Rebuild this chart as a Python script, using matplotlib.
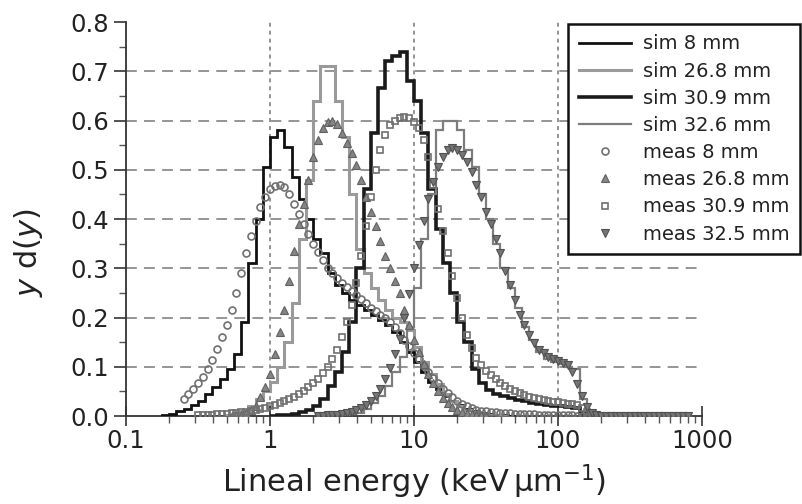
import numpy as np
import matplotlib
matplotlib.use("Agg")
import matplotlib.pyplot as plt
from matplotlib.lines import Line2D
from matplotlib.ticker import LogLocator, MultipleLocator, NullFormatter

plt.rcParams['font.family'] = ['DejaVu Sans']
plt.rcParams['mathtext.fontset'] = 'dejavusans'

# ---------------- data ----------------
# simulated spectra: histograms with 20 log bins per decade; first bin index k -> [10^(k/20), 10^((k+1)/20)]
SIM_PER_DEC = 20
sim8_k0 = -15
sim8 = [0.003, 0.005, 0.01, 0.015, 0.022, 0.03, 0.045, 0.058, 0.075, 0.095, 0.125, 0.19, 0.31, 0.40,
        0.505, 0.567, 0.58, 0.547, 0.486, 0.44, 0.40, 0.36, 0.33, 0.29, 0.266, 0.25, 0.235, 0.225,
        0.215, 0.205, 0.195, 0.185, 0.17, 0.15, 0.13, 0.11, 0.09, 0.07, 0.055, 0.04, 0.03, 0.022,
        0.015, 0.01, 0.007, 0.005, 0.003, 0.002, 0.001]
sim268_k0 = -6
sim268 = [0.003, 0.006, 0.01, 0.02, 0.035, 0.05, 0.07, 0.10, 0.15, 0.23, 0.36, 0.48, 0.64, 0.71,
          0.71, 0.64, 0.567, 0.45, 0.34, 0.29, 0.26, 0.235, 0.215, 0.20, 0.19, 0.175, 0.14, 0.11,
          0.085, 0.065, 0.045, 0.03, 0.02, 0.012, 0.008, 0.005, 0.003, 0.002, 0.001]
sim309_k0 = 0
sim309 = [0.001, 0.002, 0.003, 0.005, 0.008, 0.013, 0.02, 0.035, 0.06, 0.09, 0.13, 0.19, 0.30, 0.46,
          0.575, 0.667, 0.72, 0.73, 0.74, 0.68, 0.64, 0.575, 0.46, 0.38, 0.31, 0.25, 0.19, 0.15,
          0.095, 0.068, 0.052, 0.045, 0.04, 0.036, 0.033, 0.03, 0.027, 0.025, 0.023, 0.021, 0.02,
          0.018, 0.016, 0.006, 0.002, 0.001]
sim326_k0 = 10
sim326 = [0.002, 0.004, 0.006, 0.015, 0.026, 0.04, 0.06, 0.09, 0.12, 0.18, 0.26, 0.36, 0.45, 0.58,
          0.60, 0.60, 0.58, 0.54, 0.506, 0.45, 0.40, 0.35, 0.30, 0.26, 0.22, 0.18, 0.155, 0.13,
          0.115, 0.11, 0.105, 0.10, 0.095, 0.035, 0.01, 0.002, 0.001]

# measured spectra: points on a log grid with 30 points per decade; first point index k -> 10^(k/30)
MEAS_PER_DEC = 30
meas8_k0 = -18
meas8 = [0.035, 0.045, 0.055, 0.067, 0.08, 0.096, 0.114, 0.136, 0.16, 0.185, 0.215, 0.25, 0.29, 0.33,
         0.365, 0.395, 0.425, 0.445, 0.46, 0.468, 0.47, 0.465, 0.45, 0.43, 0.41, 0.39, 0.37, 0.35,
         0.333, 0.316, 0.30, 0.29, 0.28, 0.27, 0.262, 0.253, 0.245, 0.237, 0.229, 0.22, 0.213, 0.206,
         0.198, 0.19, 0.18, 0.168, 0.155, 0.142, 0.128, 0.115, 0.102, 0.09, 0.078, 0.066, 0.055,
         0.046, 0.038, 0.03, 0.025, 0.02, 0.016, 0.013, 0.011, 0.01, 0.009, 0.008, 0.007, 0.006,
         0.0055, 0.005, 0.0045, 0.004, 0.004, 0.0035, 0.003, 0.003, 0.0025, 0.0025, 0.002, 0.002,
         0.0015, 0.0015, 0.001, 0.001, 0.001]
meas268_k0 = -8
meas268 = [0.001, 0.002, 0.003, 0.006, 0.012, 0.02, 0.038, 0.058, 0.085, 0.125, 0.17, 0.215, 0.275,
           0.335, 0.39, 0.43, 0.48, 0.525, 0.56, 0.585, 0.597, 0.60, 0.592, 0.575, 0.555, 0.535, 0.51,
           0.48, 0.445, 0.415, 0.385, 0.355, 0.325, 0.30, 0.275, 0.25, 0.215, 0.185, 0.155, 0.13,
           0.105, 0.085, 0.066, 0.05, 0.037, 0.027, 0.019, 0.013, 0.009, 0.006, 0.004, 0.003, 0.002,
           0.001]
meas309_k0 = -15
meas309 = [0.002, 0.002, 0.003, 0.003, 0.004, 0.004, 0.005, 0.006, 0.007, 0.008, 0.009, 0.011, 0.013,
           0.015, 0.017, 0.02, 0.023, 0.026, 0.03, 0.034, 0.039, 0.044, 0.05, 0.058, 0.066, 0.076,
           0.088, 0.10, 0.115, 0.135, 0.16, 0.19, 0.225, 0.27, 0.325, 0.385, 0.445, 0.50, 0.54, 0.57,
           0.59, 0.60, 0.605, 0.607, 0.605, 0.598, 0.585, 0.56, 0.525, 0.47, 0.42, 0.375, 0.33, 0.285,
           0.24, 0.20, 0.165, 0.138, 0.118, 0.103, 0.092, 0.083, 0.076, 0.068, 0.061, 0.055, 0.05,
           0.046, 0.042, 0.039, 0.036, 0.034, 0.032, 0.03, 0.029, 0.028, 0.027, 0.025, 0.024, 0.022,
           0.016, 0.008, 0.003, 0.001, 0.0, 0.0, 0.0, 0.0, 0.0, 0.0, 0.0, 0.0, 0.0, 0.0, 0.0, 0.0,
           0.0, 0.0, 0.0, 0.0, 0.0, 0.0, 0.0]
meas325_k0 = 10
meas325 = [0.001, 0.001, 0.002, 0.002, 0.003, 0.004, 0.006, 0.008, 0.012, 0.016, 0.022, 0.03, 0.041,
           0.055, 0.075, 0.098, 0.125, 0.157, 0.20, 0.248, 0.30, 0.348, 0.395, 0.44, 0.475, 0.505,
           0.525, 0.54, 0.545, 0.54, 0.53, 0.515, 0.495, 0.47, 0.445, 0.415, 0.39, 0.36, 0.33, 0.295,
           0.265, 0.235, 0.205, 0.185, 0.165, 0.148, 0.135, 0.127, 0.12, 0.116, 0.112, 0.108, 0.104,
           0.09, 0.065, 0.04, 0.018, 0.006, 0.002, 0.001, 0.0, 0.0, 0.0, 0.0, 0.0, 0.0, 0.0, 0.0,
           0.0, 0.0, 0.0, 0.0, 0.0, 0.0, 0.0, 0.0, 0.0, 0.0]

sim_labels = ['sim 8 mm', 'sim 26.8 mm', 'sim 30.9 mm', 'sim 32.6 mm']
meas_labels = ['meas 8 mm', 'meas 26.8 mm', 'meas 30.9 mm', 'meas 32.5 mm']
y_ticks = [0.0, 0.1, 0.2, 0.3, 0.4, 0.5, 0.6, 0.7, 0.8]
x_ticks = [0.1, 1, 10, 100, 1000]
x_ticklabels = ['0.1', '1', '10', '100', '1000']

# ---------------- figure ----------------
fig = plt.figure(figsize=(8.03, 5.04), dpi=100)
ax = fig.add_axes([0.1569, 0.1746, 0.7173, 0.7817])

def edges(k0, n, per):
    return 10.0 ** ((k0 + np.arange(n + 1)) / per)

def grid_x(k0, n, per):
    return 10.0 ** ((k0 + np.arange(n)) / per)

sim_sets = [(sim8_k0, sim8), (sim268_k0, sim268), (sim309_k0, sim309), (sim326_k0, sim326)]
sim_styles = [dict(color='#111111', lw=2.0), dict(color='#9a9a9a', lw=2.2),
              dict(color='#1a1a1a', lw=2.6), dict(color='#7d7d7d', lw=1.6)]
for (k0, vals), st, lab in zip(sim_sets, sim_styles, sim_labels):
    ax.stairs(vals, edges(k0, len(vals), SIM_PER_DEC), baseline=0, zorder=3, label=lab, **st)

meas_sets = [(meas8_k0, meas8), (meas268_k0, meas268), (meas309_k0, meas309), (meas325_k0, meas325)]
meas_styles = [dict(marker='o', mfc='none', mec='#707070', ms=5.0, mew=1.2),
               dict(marker='^', mfc='#858585', mec='#606060', ms=5.2, mew=0.8),
               dict(marker='s', mfc='none', mec='#707070', ms=4.6, mew=1.2),
               dict(marker='v', mfc='#757575', mec='#505050', ms=5.2, mew=0.8)]
for (k0, vals), st, lab in zip(meas_sets, meas_styles, meas_labels):
    ax.plot(grid_x(k0, len(vals), MEAS_PER_DEC), vals, ls='none', zorder=4, label=lab, **st)

ax.set_xscale('log')
ax.set_xlim(0.1, 1000)
ax.set_ylim(0.0, 0.8)

# grid
for yv in y_ticks[1:-1]:
    ax.axhline(yv, color='#8c8c8c', lw=1.3, ls=(0, (6, 4)), zorder=1)
for xv in x_ticks[1:-1]:
    ax.axvline(xv, color='#8c8c8c', lw=1.3, ls=(0, (2.2, 2.2)), zorder=1)

ax.set_xticks(x_ticks)
ax.set_xticklabels(x_ticklabels)
ax.xaxis.set_minor_locator(LogLocator(base=10, subs=np.arange(2, 10)))
ax.xaxis.set_minor_formatter(NullFormatter())
ax.set_yticks(y_ticks)
ax.set_yticklabels(['%.1f' % v for v in y_ticks])
ax.yaxis.set_minor_locator(MultipleLocator(0.05))

for s in ['top', 'right']:
    ax.spines[s].set_visible(False)
for s in ['left', 'bottom']:
    ax.spines[s].set_color('#333333')
    ax.spines[s].set_linewidth(1.3)

ax.tick_params(axis='y', which='major', direction='out', length=9, width=1.2,
               colors='#333333', labelsize=17.5, labelcolor='#222222', pad=3)
ax.tick_params(axis='x', which='major', direction='inout', length=14, width=1.2,
               colors='#333333', labelsize=17.5, labelcolor='#222222', pad=2)
ax.tick_params(axis='both', which='minor', direction='out', length=5, width=1.0, colors='#555555')

ax.set_xlabel('Lineal energy (keV$\\,$μm$^{-1}$)', fontsize=22, color='#222222', labelpad=7)
ax.set_ylabel('$y$ d($y$)', fontsize=22, color='#222222')
ax.yaxis.set_label_coords(-0.141, 0.416)

# legend
handles = []
for st, lab in zip(sim_styles, sim_labels):
    handles.append(Line2D([], [], label=lab, **st))
for st, lab in zip(meas_styles, meas_labels):
    handles.append(Line2D([], [], ls='none', label=lab, **st))
leg = fig.legend(handles=handles, loc='upper left', bbox_to_anchor=(0.7073, 0.953),
                 fontsize=14, frameon=True, fancybox=False, framealpha=1.0,
                 edgecolor='#111111', handlelength=2.7, handletextpad=0.6,
                 labelspacing=0.42, borderpad=0.55, borderaxespad=0.0)
leg.get_frame().set_linewidth(1.8)
for t in leg.get_texts():
    t.set_color('#222222')

fig.savefig('out.png', dpi=100)
